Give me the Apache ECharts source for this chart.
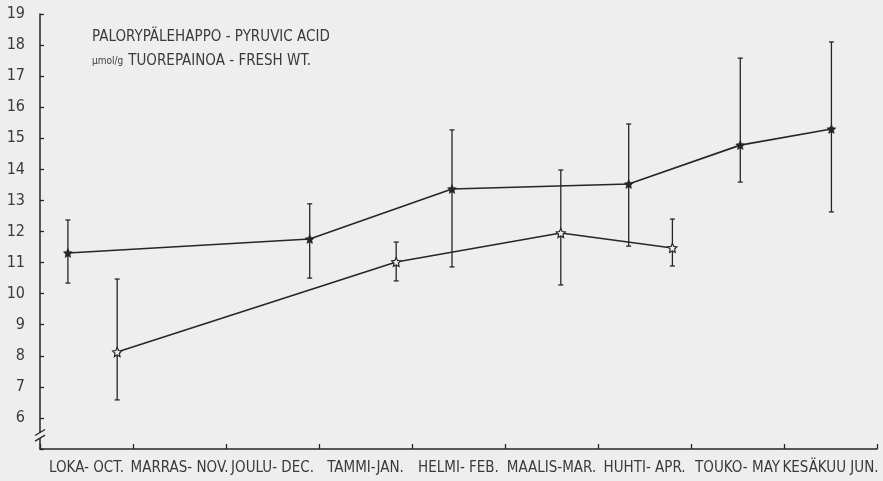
<!DOCTYPE html>
<html>
<head>
<meta charset="utf-8">
<script src="https://cdn.jsdelivr.net/npm/echarts@6/dist/echarts.min.js"></script>
<style>
html,body{margin:0;padding:0;background:#eeeeee;}
#c{width:883px;height:481px;}
</style>
</head>
<body>
<div id="c"></div>
<script>
// ---- data ----
const months = ['LOKA- OCT.','MARRAS- NOV.','JOULU- DEC.','TAMMI-JAN.','HELMI- FEB.','MAALIS-MAR.','HUHTI- APR.','TOUKO- MAY','KESÄKUU JUN.'];
const yTicks = [6,7,8,9,10,11,12,13,14,15,16,17,18,19];
// series 1 (filled stars): position in months from start of October
const s1X  = [0.30, 2.90, 4.43, 6.33, 7.53, 8.51];
const s1Y  = [11.31, 11.76, 13.37, 13.53, 14.78, 15.30];
const s1Hi = [12.37, 12.89, 15.27, 15.46, 17.58, 18.10];
const s1Lo = [10.34, 10.50, 10.86, 11.53, 13.59, 12.63];
// series 2 (open stars)
const s2X  = [0.83, 3.83, 5.60, 6.80];
const s2Y  = [8.12, 11.02, 11.95, 11.47];
const s2Hi = [10.47, 11.66, 13.98, 12.40];
const s2Lo = [6.58, 10.41, 10.28, 10.89];

const INK = '#262626';
const TXT = '#3a3a3a';
const BG = '#eeeeee';
const FONT = '"Liberation Sans Narrow","DejaVu Sans Condensed","Liberation Sans",sans-serif';
const STAR = 'path://M0,-10 L2.9,-4 9.5,-3.1 4.7,1.5 5.9,8.1 0,5 -5.9,8.1 -4.7,1.5 -9.5,-3.1 -2.9,-4Z';

function errData(xs, lo, hi){ return xs.map((x,i)=>[x, lo[i], hi[i]]); }
function errRender(params, api){
  const x = api.value(0);
  const p1 = api.coord([x, api.value(1)]);
  const p2 = api.coord([x, api.value(2)]);
  const w = 2.5;
  const st = {stroke: INK, lineWidth: 1.3};
  return {type:'group', children:[
    {type:'line', shape:{x1:p1[0],y1:p1[1],x2:p2[0],y2:p2[1]}, style:st},
    {type:'line', shape:{x1:p1[0]-w,y1:p1[1],x2:p1[0]+w,y2:p1[1]}, style:st},
    {type:'line', shape:{x1:p2[0]-w,y1:p2[1],x2:p2[0]+w,y2:p2[1]}, style:st}
  ]};
}
function breakRender(params, api){
  const a = api.coord([0, api.value(0)]);
  const b = api.coord([0, api.value(1)]);
  const st = {stroke: INK, lineWidth: 1.3};
  return {type:'group', children:[
    {type:'rect', shape:{x:a[0]-3, y:b[1], width:6, height:a[1]-b[1]}, style:{fill:BG}},
    {type:'line', shape:{x1:a[0]-5,y1:a[1]+3,x2:a[0]+5,y2:a[1]-3}, style:st},
    {type:'line', shape:{x1:b[0]-5,y1:b[1]+3,x2:b[0]+5,y2:b[1]-3}, style:st}
  ]};
}

const chart = echarts.init(document.getElementById('c'));
chart.setOption({
  backgroundColor: BG,
  animation: false,
  title: {
    left: 87, top: 20,
    text: '{a|PALORYPÄLEHAPPO - PYRUVIC ACID}\n{b|µmol/g} {a|TUOREPAINOA - FRESH WT.}',
    textStyle: {
      fontWeight: 'normal',
      rich: {
        a: {fontFamily: FONT, fontSize: 15, fontWeight: 'normal', color: TXT, lineHeight: 24},
        b: {fontFamily: FONT, fontSize: 10, fontWeight: 'normal', color: TXT, lineHeight: 24}
      }
    }
  },
  grid: {left: 40, right: 6, top: 14, bottom: 32, containLabel: false},
  xAxis: [
    {type:'value', min:0, max:9, interval:1, show:false},
    {type:'category', data: months, boundaryGap: true, position:'bottom',
      axisLine:{show:true, lineStyle:{color:INK, width:1.5}},
      axisTick:{show:true, inside:true, length:5, alignWithLabel:false, lineStyle:{color:INK, width:1.3}},
      axisLabel:{color:TXT, fontFamily:FONT, fontSize:15, margin:12, interval:0},
      splitLine:{show:false}}
  ],
  yAxis: {
    type:'value', min:5, max:19, interval:1,
    axisLine:{show:true, lineStyle:{color:INK, width:1.5}},
    axisTick:{show:true, inside:true, length:4, lineStyle:{color:INK, width:1.3}},
    axisLabel:{color:TXT, fontFamily:FONT, fontSize:16, margin:15,
      formatter: v => yTicks.indexOf(v) >= 0 ? String(v) : ''},
    splitLine:{show:false}
  },
  series: [
    {type:'custom', xAxisIndex:0, renderItem: errRender, data: errData(s1X, s1Lo, s1Hi), z:3},
    {type:'custom', xAxisIndex:0, renderItem: errRender, data: errData(s2X, s2Lo, s2Hi), z:3},
    {type:'line', xAxisIndex:0, data: s1X.map((x,i)=>[x, s1Y[i]]),
      symbol: STAR, symbolSize: 9, lineStyle:{color:INK, width:1.6},
      itemStyle:{color:INK, borderColor:INK, borderWidth:0.5}, z:4},
    {type:'line', xAxisIndex:0, data: s2X.map((x,i)=>[x, s2Y[i]]),
      symbol: STAR, symbolSize: 9, lineStyle:{color:INK, width:1.6},
      itemStyle:{color:BG, borderColor:INK, borderWidth:1.2}, z:4},
    {type:'custom', xAxisIndex:0, renderItem: breakRender, data: [[5.35, 5.53]], clip:false, z:5,
      encode:{y:[0,1]}}
  ]
});
</script>
</body>
</html>
